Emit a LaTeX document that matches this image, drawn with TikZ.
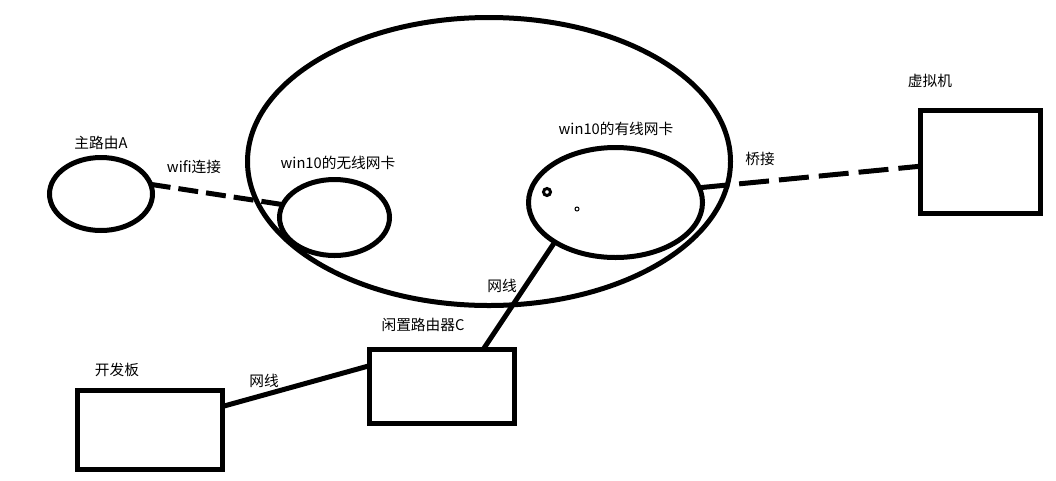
\documentclass[tikz,border=0pt]{standalone}
\usepackage{fontspec}
\setmainfont{Noto Sans CJK SC}
\usetikzlibrary{shapes.geometric,calc}
\tikzset{
  ell/.style={draw=black, line width=5pt, ellipse, inner sep=0pt, outer sep=0pt},
  box/.style={draw=black, line width=5pt, rectangle, inner sep=0pt, outer sep=0pt},
  conn/.style={draw=black, line width=5pt},
  wifidash/.style={conn, dash pattern=on 20pt off 8pt},
  bridgedash/.style={conn, dash pattern=on 30pt off 10pt},
  lbl/.style={font=\fontsize{14.7}{16}\selectfont, inner sep=0pt, text=black}
}
\begin{document}
\begin{tikzpicture}[x=1pt,y=-1pt]
\useasboundingbox (0,0) rectangle (1056,480);
\fill[white] (0,0) rectangle (1056,480);
% shapes
\node[ell, minimum width=483pt, minimum height=288pt] (pc) at (489,161.5) {};
\node[ell, minimum width=103pt, minimum height=73pt] (A) at (101,194) {};
\node[ell, minimum width=110pt, minimum height=76pt] (wl) at (334.5,217.5) {};
\node[ell, minimum width=174pt, minimum height=110pt] (wd) at (615.5,202.5) {};
\node[box, minimum width=120pt, minimum height=103pt] (vm) at (980.5,162) {};
\node[box, minimum width=145pt, minimum height=79pt] (dev) at (150,430) {};
\node[box, minimum width=145pt, minimum height=74pt] (C) at (442,386.5) {};
\node[circle, draw=black, line width=3pt, minimum size=7pt, inner sep=0pt] (dot1) at (547,192) {};
\node[circle, draw=black, line width=1pt, minimum size=4pt, inner sep=0pt] (dot2) at (577,209) {};
% connectors
\draw[wifidash] (A.11) -- (wl.166);
\draw[bridgedash] (wd.10) -- (vm.184);
\draw[conn] (C.42) -- (wd.213);
\draw[conn] (dev.18) -- (C.164);
% labels
\node[lbl] (tA) at (101,143) {主路由A};
\node[lbl] (twifi) at (194,167) {wifi连接};
\node[lbl] (twl) at (338,163) {win10的无线网卡};
\node[lbl] (twd) at (616,129) {win10的有线网卡};
\node[lbl] (tbr) at (760,159) {桥接};
\node[lbl] (tvm) at (930,81) {虚拟机};
\node[lbl] (tnet1) at (502,286) {网线};
\node[lbl] (tC) at (423,325) {闲置路由器C};
\node[lbl] (tdev) at (117,370) {开发板};
\node[lbl] (tnet2) at (264,381) {网线};
\end{tikzpicture}
\end{document}
